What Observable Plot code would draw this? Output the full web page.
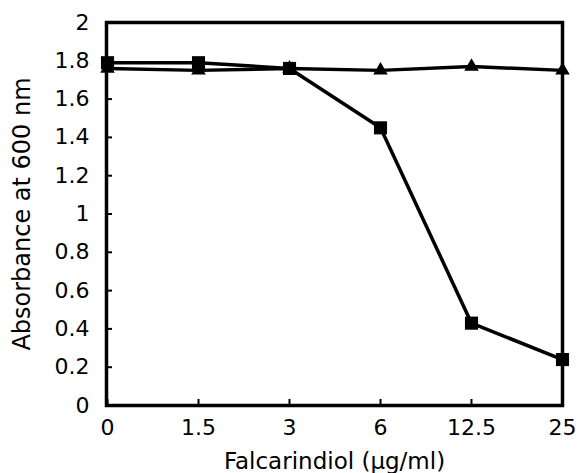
<!DOCTYPE html>
<html>
<head>
<meta charset="utf-8">
<script src="https://cdn.jsdelivr.net/npm/d3@7"></script>
<script src="https://cdn.jsdelivr.net/npm/@observablehq/plot@0.6"></script>
<style>
  html, body { margin: 0; padding: 0; background: white; }
</style>
</head>
<body>
<div id="chart"></div>
<script>
const concentrations = ["0", "1.5", "3", "6", "12.5", "25"];
const squareValues = [1.79, 1.79, 1.76, 1.45, 0.43, 0.24];
const triangleValues = [1.76, 1.75, 1.76, 1.75, 1.77, 1.75];
const yTicks = [0, 0.2, 0.4, 0.6, 0.8, 1, 1.2, 1.4, 1.6, 1.8, 2];

const squares = concentrations.map((c, i) => ({c, v: squareValues[i]}));
const triangles = concentrations.map((c, i) => ({c, v: triangleValues[i]}));

const chart = Plot.plot({
  width: 579,
  height: 473,
  marginLeft: 106,
  marginRight: 17,
  marginTop: 22,
  marginBottom: 68,
  style: {fontFamily: "'DejaVu Sans', sans-serif", fontSize: "22px", color: "black", background: "white"},
  x: {type: "point", domain: concentrations, padding: 0},
  y: {domain: [0, 2]},
  marks: [
    Plot.axisY({
      ticks: yTicks, tickSize: -6, tickPadding: 23, strokeWidth: 2, fontSize: 22,
      tickFormat: d => String(+d.toFixed(1)), label: null
    }),
    Plot.axisY({
      ticks: [], tickSize: 0,
      label: "Absorbance at 600 nm", labelAnchor: "center", labelArrow: "none", labelOffset: 94, fontSize: 24
    }),
    Plot.axisX({
      tickSize: -6, tickPadding: 20, strokeWidth: 2, fontSize: 22, label: null
    }),
    Plot.axisX({
      ticks: [], tickSize: 0,
      label: "Falcarindiol (μg/ml)", labelAnchor: "center", labelArrow: "none", labelOffset: 63, fontSize: 23
    }),
    Plot.frame({strokeWidth: 3.5}),
    Plot.line(triangles, {x: "c", y: "v", strokeWidth: 3.5}),
    Plot.line(squares, {x: "c", y: "v", strokeWidth: 3.5}),
    Plot.dot(triangles, {x: "c", y: "v", symbol: "triangle", r: 5.4, fill: "black", stroke: "none"}),
    Plot.dot(squares, {x: "c", y: "v", symbol: "square", r: 7.4, fill: "black", stroke: "none"})
  ]
});
document.getElementById("chart").appendChild(chart);
</script>
</body>
</html>
